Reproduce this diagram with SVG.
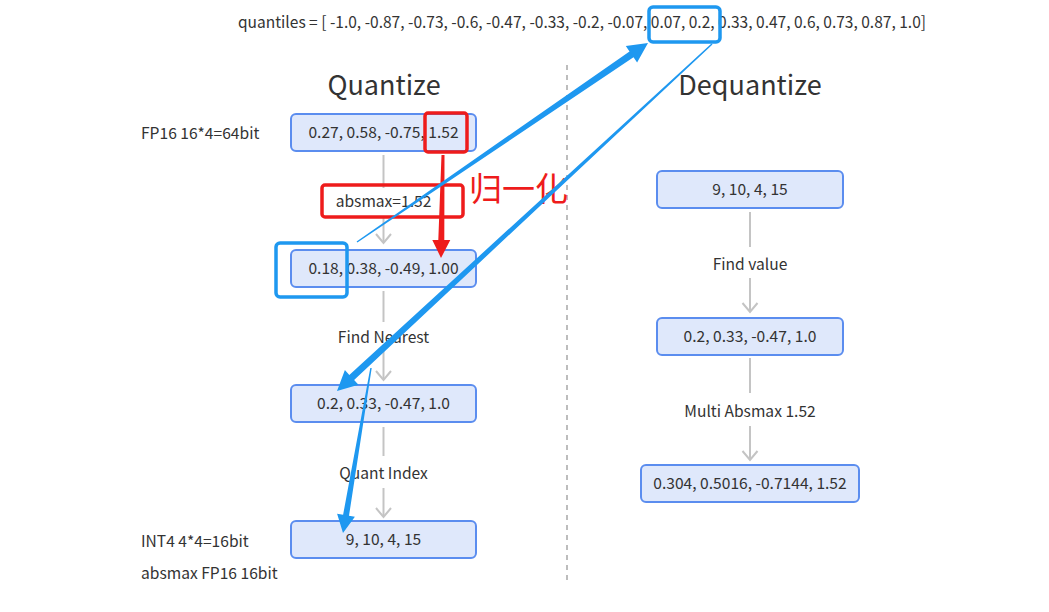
<svg xmlns="http://www.w3.org/2000/svg" width="1049" height="612" viewBox="0 0 1049 612">
<style>
text{font-family:"Noto Sans CJK SC","Noto Sans",sans-serif;fill:#333}
.node rect{fill:#dfe8fb;stroke:#5b8def;stroke-width:2}
.node text{font-size:15.6px;text-anchor:middle}
.lbl{font-size:15.6px;text-anchor:middle}
.side{font-size:15.6px}
.title{font-size:27px;text-anchor:middle}
.conn line,.conn polyline{stroke:#c4c4c4;stroke-width:2;fill:none}
.blue{fill:#1e98f0}
.bbox{fill:none;stroke:#1e98f0;stroke-width:3.5}
.rbox{fill:none;stroke:#ee1c1c;stroke-width:3.5}
</style>
<rect width="1049" height="612" fill="#ffffff"/>

<text x="238" y="28" font-size="16" textLength="688" lengthAdjust="spacingAndGlyphs">quantiles = [ -1.0, -0.87, -0.73, -0.6, -0.47, -0.33, -0.2, -0.07, 0.07, 0.2, 0.33, 0.47, 0.6, 0.73, 0.87, 1.0]</text>

<text class="title" x="384" y="95">Quantize</text>
<text class="title" x="750" y="95">Dequantize</text>

<line x1="567" y1="65" x2="567" y2="582" stroke="#bdbdbd" stroke-width="2" stroke-dasharray="5,5"/>

<text class="side" x="141" y="139">FP16 16*4=64bit</text>
<text class="side" x="141" y="547">INT4 4*4=16bit</text>
<text class="side" x="141" y="579">absmax FP16 16bit</text>

<g class="conn" id="connectors">
  <line x1="383.5" y1="155" x2="383.5" y2="188"/>
  <line x1="383.5" y1="216" x2="383.5" y2="243"/>
  <polyline points="376,234 383.5,243 391,234"/>
  <line x1="383.5" y1="291" x2="383.5" y2="322"/>
  <line x1="383.5" y1="351" x2="383.5" y2="380"/>
  <polyline points="376,371 383.5,380 391,371"/>
  <line x1="383.5" y1="427" x2="383.5" y2="456"/>
  <line x1="383.5" y1="488" x2="383.5" y2="517"/>
  <polyline points="376,508 383.5,517 391,508"/>
  <line x1="750" y1="212" x2="750" y2="247"/>
  <line x1="750" y1="278" x2="750" y2="312"/>
  <polyline points="742.5,303 750,312 757.5,303"/>
  <line x1="750" y1="358" x2="750" y2="393"/>
  <line x1="750" y1="426" x2="750" y2="460"/>
  <polyline points="742.5,451 750,460 757.5,451"/>
</g>
<text class="lbl" x="383.5" y="207">absmax=1.52</text>
<text class="lbl" x="383.5" y="343">Find Nearest</text>
<text class="lbl" x="383.5" y="479">Quant Index</text>
<text class="lbl" x="750" y="270">Find value</text>
<text class="lbl" x="750" y="417">Multi Absmax 1.52</text>

<g class="node" id="q1"><rect x="291" y="114" width="185" height="37" rx="5"/><text x="383.5" y="138">0.27, 0.58, -0.75, 1.52</text></g>
<g class="node" id="q2"><rect x="291" y="250" width="185" height="37" rx="5"/><text x="383.5" y="274">0.18, 0.38, -0.49, 1.00</text></g>
<g class="node" id="q3"><rect x="291" y="385" width="185" height="37" rx="5"/><text x="383.5" y="409">0.2, 0.33, -0.47, 1.0</text></g>
<g class="node" id="q4"><rect x="291" y="521" width="185" height="37" rx="5"/><text x="383.5" y="545">9, 10, 4, 15</text></g>
<g class="node" id="d1"><rect x="657" y="171" width="186" height="37" rx="5"/><text x="750" y="195">9, 10, 4, 15</text></g>
<g class="node" id="d2"><rect x="657" y="318" width="186" height="37" rx="5"/><text x="750" y="342">0.2, 0.33, -0.47, 1.0</text></g>
<g class="node" id="d3"><rect x="641" y="465" width="218" height="37" rx="5"/><text x="750" y="489">0.304, 0.5016, -0.7144, 1.52</text></g>

<g id="annotations">
  <rect class="rbox" x="425" y="113" width="42" height="39" rx="3"/>
  <rect class="rbox" x="322" y="185" width="141" height="32" rx="3"/>
  <text x="469" y="201" font-size="33" style="fill:#ee1c1c">归一化</text>
  <polygon fill="#ee1c1c" points="441.5,155 438.3,240 432.3,240 441,258 450.3,240 444.3,240 444.5,155"/>

  <rect class="bbox" x="649" y="7" width="71" height="35" rx="4"/>
  <rect class="bbox" x="276" y="243" width="71" height="54" rx="4"/>
  <polygon class="blue" points="357.4,242.6 633.5,57.2 637.1,62.6 648,43 625.8,46 629.5,51.4 356.6,241.4"/>
  <polygon class="blue" points="711.5,43.5 349.3,374.9 344.9,370.1 337,391 358.5,384.8 354.1,380 712.5,44.6"/>
  <polygon class="blue" points="370.3,367.9 343.1,514.8 337.1,513.8 343,533 354.9,516.8 349,515.8 371.7,368.1"/>
</g>
</svg>
